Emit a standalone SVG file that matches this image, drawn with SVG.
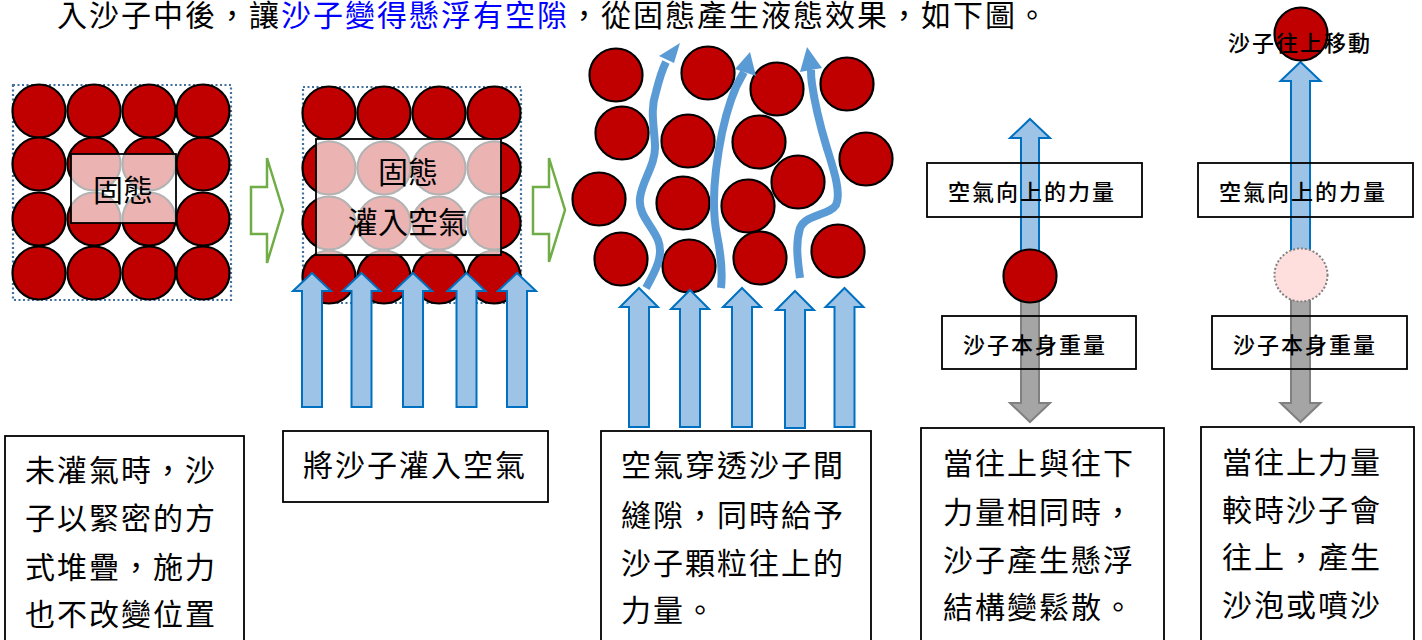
<svg xmlns="http://www.w3.org/2000/svg" width="1422" height="640" viewBox="0 0 1422 640">
  <style>
    .t { font-family: "Noto Sans CJK TC", "Noto Sans", sans-serif; fill: #000; }
    .body { font-size: 30px; letter-spacing: 2px; }
    .lbl { font-size: 22px; letter-spacing: 2px; font-weight: 500; }
    .sand { fill: #C00000; stroke: #000; stroke-width: 2.2; }
    .frame { fill: none; stroke: #41719C; stroke-width: 2.2; stroke-dasharray: 2 2.5; }
    .veil { fill: #fff; fill-opacity: 0.7; stroke: #000; stroke-width: 1.8; }
    .box { fill: none; stroke: #000; stroke-width: 1.8; }
    .tbox { fill: #fff; stroke: #000; stroke-width: 1.8; }
    .air { fill: #9DC3E6; stroke: #0070C0; stroke-width: 2; stroke-linejoin: miter; }
    .weight { fill: #A5A5A5; stroke: #808080; stroke-width: 2; }
    .step { fill: #fff; stroke: #70AD47; stroke-width: 2.5; }
    .flow { fill: none; stroke: #5B9BD5; stroke-width: 8; stroke-linecap: butt; }
    .flowhead { fill: #5B9BD5; }
  </style>

  <!-- heading line -->
  <text class="t" x="57" y="26" font-size="30" letter-spacing="2">入沙子中後，讓<tspan fill="#0000FF">沙子變得懸浮有空隙</tspan>，從固態產生液態效果，如下圖。</text>

  <!-- stage 1: packed solid -->
  <g id="stage-solid">
    <rect class="frame" x="13" y="85" width="218" height="215"/>
    <circle class="sand" cx="39" cy="111" r="26.5"/>
    <circle class="sand" cx="94" cy="111" r="26.5"/>
    <circle class="sand" cx="149" cy="111" r="26.5"/>
    <circle class="sand" cx="203" cy="111" r="26.5"/>
    <circle class="sand" cx="39" cy="164" r="26.5"/>
    <circle class="sand" cx="94" cy="164" r="26.5"/>
    <circle class="sand" cx="149" cy="164" r="26.5"/>
    <circle class="sand" cx="203" cy="164" r="26.5"/>
    <circle class="sand" cx="39" cy="219" r="26.5"/>
    <circle class="sand" cx="94" cy="219" r="26.5"/>
    <circle class="sand" cx="149" cy="219" r="26.5"/>
    <circle class="sand" cx="203" cy="219" r="26.5"/>
    <circle class="sand" cx="39" cy="273" r="26.5"/>
    <circle class="sand" cx="94" cy="273" r="26.5"/>
    <circle class="sand" cx="149" cy="273" r="26.5"/>
    <circle class="sand" cx="203" cy="273" r="26.5"/>
    <rect class="veil" x="71" y="154" width="105" height="69"/>
    <text class="t" x="123" y="201" font-size="30" text-anchor="middle">固態</text>
  </g>

  <!-- stage 2: air injected -->
  <g id="stage-inject">
    <rect class="frame" x="303" y="87" width="218" height="216"/>
    <circle class="sand" cx="329" cy="113" r="26.5"/>
    <circle class="sand" cx="384" cy="113" r="26.5"/>
    <circle class="sand" cx="439" cy="113" r="26.5"/>
    <circle class="sand" cx="494" cy="113" r="26.5"/>
    <circle class="sand" cx="329" cy="168" r="26.5"/>
    <circle class="sand" cx="384" cy="168" r="26.5"/>
    <circle class="sand" cx="439" cy="168" r="26.5"/>
    <circle class="sand" cx="494" cy="168" r="26.5"/>
    <circle class="sand" cx="329" cy="223" r="26.5"/>
    <circle class="sand" cx="384" cy="223" r="26.5"/>
    <circle class="sand" cx="439" cy="223" r="26.5"/>
    <circle class="sand" cx="494" cy="223" r="26.5"/>
    <circle class="sand" cx="329" cy="277" r="26.5"/>
    <circle class="sand" cx="384" cy="277" r="26.5"/>
    <circle class="sand" cx="439" cy="277" r="26.5"/>
    <circle class="sand" cx="494" cy="277" r="26.5"/>
    <rect class="veil" x="316" y="139" width="185" height="116"/>
    <text class="t" x="408" y="183" font-size="30" text-anchor="middle">固態</text>
    <text class="t" x="408" y="233" font-size="30" text-anchor="middle">灌入空氣</text>
  </g>

  <!-- stage 3: loosened grains -->
  <g id="stage-loose">
    <circle class="sand" cx="616" cy="75" r="26.5"/>
    <circle class="sand" cx="708" cy="73" r="26.5"/>
    <circle class="sand" cx="777" cy="89" r="26.5"/>
    <circle class="sand" cx="847" cy="84" r="26.5"/>
    <circle class="sand" cx="622" cy="133" r="26.5"/>
    <circle class="sand" cx="688" cy="141" r="26.5"/>
    <circle class="sand" cx="759" cy="142" r="26.5"/>
    <circle class="sand" cx="866" cy="159" r="26.5"/>
    <circle class="sand" cx="599" cy="199" r="26.5"/>
    <circle class="sand" cx="683" cy="203" r="26.5"/>
    <circle class="sand" cx="748" cy="206" r="26.5"/>
    <circle class="sand" cx="798" cy="182" r="26.5"/>
    <circle class="sand" cx="621" cy="259" r="26.5"/>
    <circle class="sand" cx="689" cy="266" r="26.5"/>
    <circle class="sand" cx="760" cy="258" r="26.5"/>
    <circle class="sand" cx="838" cy="251" r="26.5"/>
  </g>

  <!-- stage 4: balanced forces -->
  <g id="stage-balance">
    <path class="air" d="M1030,119 L1050,138 L1039,138 L1039,252 L1021,252 L1021,138 L1010,138 Z"/>
    <path class="weight" d="M1030,422 L1050,403 L1039,403 L1039,296 L1021,296 L1021,403 L1010,403 Z"/>
    <circle class="sand" cx="1030" cy="276" r="26.5"/>
    <rect class="box" x="927" y="163" width="215" height="54"/>
    <text class="t lbl" x="948" y="200">空氣向上的力量</text>
    <rect class="box" x="942" y="316" width="194" height="53"/>
    <text class="t lbl" x="963" y="353">沙子本身重量</text>
  </g>

  <!-- stage 5: grain lifted -->
  <g id="stage-lift">
    <path class="air" d="M1300.5,62 L1320.5,81 L1310,81 L1310,252 L1291,252 L1291,81 L1280.5,81 Z"/>
    <path class="weight" d="M1300.5,422 L1320.5,403 L1310,403 L1310,296 L1291,296 L1291,403 L1280.5,403 Z"/>
    <circle cx="1301" cy="275" r="26.5" fill="#FFDEDE" stroke="#808080" stroke-width="2" stroke-dasharray="2 2"/>
    <circle class="sand" cx="1301" cy="34" r="26.5"/>
    <text class="t lbl" x="1228" y="51">沙子往上移動</text>
    <rect class="box" x="1198" y="163" width="215" height="54"/>
    <text class="t lbl" x="1219" y="200">空氣向上的力量</text>
    <rect class="box" x="1212" y="316" width="195" height="53"/>
    <text class="t lbl" x="1233" y="353">沙子本身重量</text>
  </g>

  <!-- arrows -->
  <g id="connectors">
    <!-- stage steps -->
    <path class="step" d="M251,187 L267,187 L267,158 L283,210 L267,263 L267,234 L251,234 Z"/>
    <path class="step" d="M533,187 L549,187 L549,158 L565,210 L549,262 L549,234 L533,234 Z"/>

    <!-- injected air, stage 2 -->
    <path class="air" d="M312,273 L331,291 L322,291 L322,407 L302,407 L302,291 L293,291 Z"/>
    <path class="air" d="M361.5,273 L380.5,291 L371.5,291 L371.5,407 L351.5,407 L351.5,291 L342.5,291 Z"/>
    <path class="air" d="M413,273 L432,291 L423,291 L423,407 L403,407 L403,291 L394,291 Z"/>
    <path class="air" d="M466.5,273 L485.5,291 L476.5,291 L476.5,407 L456.5,407 L456.5,291 L447.5,291 Z"/>
    <path class="air" d="M517,273 L536,291 L527,291 L527,407 L507,407 L507,291 L498,291 Z"/>

    <!-- injected air, stage 3 -->
    <path class="air" d="M639,288 L658,307 L649,307 L649,427 L629,427 L629,307 L620,307 Z"/>
    <path class="air" d="M690,290 L709,309 L700,309 L700,427 L680,427 L680,309 L671,309 Z"/>
    <path class="air" d="M742,288 L761,307 L752,307 L752,427 L732,427 L732,307 L723,307 Z"/>
    <path class="air" d="M795,291 L814,310 L805,310 L805,428 L785,428 L785,310 L776,310 Z"/>
    <path class="air" d="M844.5,288 L863.5,307 L854.5,307 L854.5,427 L834.5,427 L834.5,307 L825.5,307 Z"/>

    <!-- air paths through the gaps -->
    <path class="flow" d="M646,288 C656,270 664,255 658,240 C652,225 638,215 640,198 C642,180 656,165 655,145 C654,125 650,110 656,92 C659,80 662,70 666,62"/>
    <polygon class="flowhead" points="659,56 680,43 674,63"/>
    <path class="flow" d="M721,288 C723,270 721,255 717,235 C713,215 713,195 716,170 C719,145 724,120 731,100 C735,88 738,82 744,72"/>
    <polygon class="flowhead" points="735,69 750,52 756,76"/>
    <path class="flow" d="M800,278 C798,262 795,245 800,228 C806,214 830,215 836,205 C842,192 832,165 826,145 C820,125 815,105 812,84 C811,78 811,74 811,70"/>
    <polygon class="flowhead" points="800,72 807,47 822,68"/>
  </g>

  <!-- captions -->
  <g id="caption-1">
    <rect class="tbox" x="5" y="436" width="239" height="210"/>
    <text class="t body" x="25" y="481">未灌氣時，沙</text>
    <text class="t body" x="25" y="529">子以緊密的方</text>
    <text class="t body" x="25" y="578">式堆疊，施力</text>
    <text class="t body" x="25" y="625">也不改變位置</text>
  </g>
  <g id="caption-2">
    <rect class="tbox" x="283" y="431" width="265" height="71"/>
    <text class="t body" x="303" y="476">將沙子灌入空氣</text>
  </g>
  <g id="caption-3">
    <rect class="tbox" x="601" y="431" width="270" height="215"/>
    <text class="t body" x="621" y="476">空氣穿透沙子間</text>
    <text class="t body" x="621" y="526">縫隙，同時給予</text>
    <text class="t body" x="621" y="574">沙子顆粒往上的</text>
    <text class="t body" x="621" y="621">力量。</text>
  </g>
  <g id="caption-4">
    <rect class="tbox" x="921" y="428" width="243" height="218"/>
    <text class="t body" x="943" y="474">當往上與往下</text>
    <text class="t body" x="943" y="523">力量相同時，</text>
    <text class="t body" x="943" y="571">沙子產生懸浮</text>
    <text class="t body" x="943" y="618">結構變鬆散。</text>
  </g>
  <g id="caption-5">
    <rect class="tbox" x="1201" y="427" width="213" height="219"/>
    <text class="t body" x="1222" y="473">當往上力量</text>
    <text class="t body" x="1222" y="521">較時沙子會</text>
    <text class="t body" x="1222" y="568">往上，產生</text>
    <text class="t body" x="1222" y="616">沙泡或噴沙</text>
  </g>
</svg>
